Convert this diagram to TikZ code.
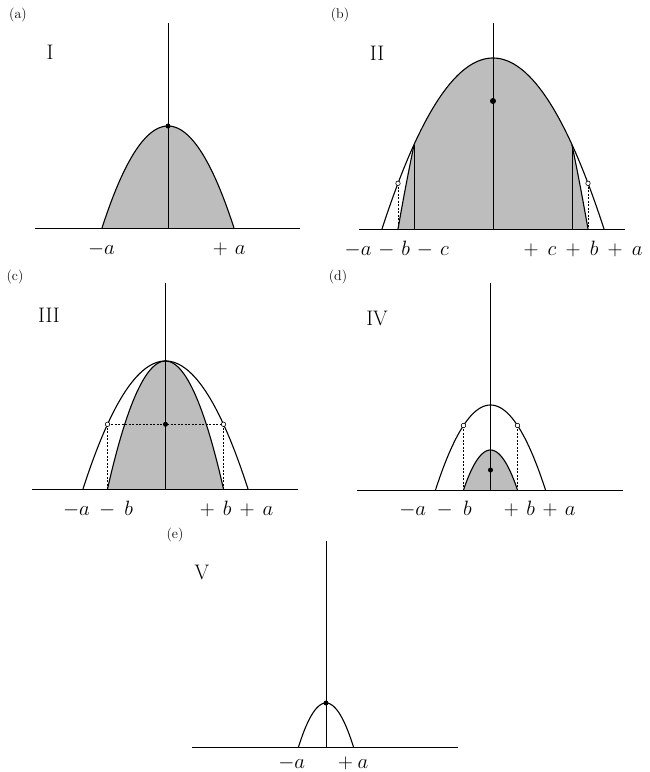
\documentclass[tikz,border=0pt]{standalone}
\begin{document}
\begin{tikzpicture}[x=1pt,y=-1pt,
  curve/.style={line width=1.1pt},
  axisline/.style={line width=0.9pt},
  shadefill/.style={fill=black!26},
  dashline/.style={dashed,dash pattern=on 2pt off 1.5pt,line width=0.6pt},
  lbl/.style={font=\fontsize{22}{26}\selectfont,inner sep=0pt,anchor=base},
  tag/.style={font=\fontsize{14}{17}\selectfont,inner sep=0pt},
  roman/.style={font=\fontsize{21}{25}\selectfont,inner sep=0pt},
  dot/.style={circle,fill,inner sep=0pt,minimum size=5pt},
  odot/.style={circle,draw,fill=white,inner sep=0pt,minimum size=4.5pt,line width=0.6pt}]
\useasboundingbox (0,0) rectangle (649,772);

% ---------------- (a)
\fill[shadefill] plot[domain=-1:1,samples=60] ({168+66*\x},{228-102*(1-\x*\x)}) -- cycle;
\draw[axisline] (35,228) -- (300,228);
\draw[axisline] (168,23) -- (168,228);
\draw[curve] plot[domain=-1:1,samples=60] ({168+66*\x},{228-102*(1-\x*\x)});
\node[dot] (aTop) at (168,126) {};
\node[tag] (tA) at (18,15) {(a)};
\node[roman] (rI) at (50,52) {I};
\node[lbl] (aL) at (101.5,254) {$-a$};
\node[lbl] (aR) at (229.2,254) {$+\mkern6mu a$};

% ---------------- (b)
\fill[shadefill] plot[domain=-1:-0.8316,samples=10] ({493+95*\x},{229-272*(1-\x*\x)})
  -- plot[domain=-0.7117:0.7117,samples=60] ({493+111*\x},{229-171*(1-\x*\x)})
  -- plot[domain=0.8316:1,samples=10] ({493+95*\x},{229-272*(1-\x*\x)}) -- cycle;
\draw[axisline] (359,229) -- (625,229);
\draw[axisline] (493,23) -- (493,229);
\draw[curve] plot[domain=-1:1,samples=80] ({493+111*\x},{229-171*(1-\x*\x)});
\draw[curve] plot[domain=-1:-0.8316,samples=10] ({493+95*\x},{229-272*(1-\x*\x)});
\draw[curve] plot[domain=0.8316:1,samples=10] ({493+95*\x},{229-272*(1-\x*\x)});
\draw[axisline] (414,144.6) -- (414,229);
\draw[axisline] (572,144.6) -- (572,229);
\draw[dashline] (398,183.3) -- (398,229);
\draw[dashline] (588,183.3) -- (588,229);
\node[odot] (bL) at (398,183.3) {};
\node[odot] (bR) at (588,183.3) {};
\node[dot,minimum size=6pt] (bDot) at (493,101) {};
\node[tag] (tB) at (340,15) {(b)};
\node[roman] (rII) at (377,53) {II};
\node[lbl] (bLL) at (396.7,255) {\medmuskip=6mu $-a-b-c$};
\node[lbl] (bRL) at (583,255) {\medmuskip=8mu $+\mkern8mu c+b+a$};

% ---------------- (c)
\fill[shadefill] plot[domain=-1:1,samples=60] ({165.5+58*\x},{489-128*(1-\x*\x)}) -- cycle;
\draw[axisline] (32,489) -- (298,489);
\draw[axisline] (165.5,283) -- (165.5,489);
\draw[curve] plot[domain=-1:1,samples=80] ({165.5+82.5*\x},{489-128*(1-\x*\x)});
\draw[curve] plot[domain=-1:1,samples=60] ({165.5+58*\x},{489-128*(1-\x*\x)});
\draw[dashline] (107.5,424.3) -- (223.5,424.3);
\draw[dashline] (107.5,424.3) -- (107.5,489);
\draw[dashline] (223.5,424.3) -- (223.5,489);
\node[odot] (cL) at (107.5,424.3) {};
\node[odot] (cR) at (223.5,424.3) {};
\node[dot] (cDot) at (165.5,424.3) {};
\node[tag] (tC) at (15,277) {(c)};
\node[roman] (rIII) at (49,315) {III};
\node[lbl] (cLL) at (98,515) {\medmuskip=8mu $-a-b$};
\node[lbl] (cRL) at (236.5,515) {\medmuskip=7mu $+\mkern7mu b+a$};

% ---------------- (d)
\fill[shadefill] plot[domain=-1:1,samples=40] ({490.5+27*\x},{490-40*(1-\x*\x)}) -- cycle;
\draw[axisline] (357,490) -- (623,490);
\draw[axisline] (490.5,283) -- (490.5,490);
\draw[curve] plot[domain=-1:1,samples=60] ({490.5+55*\x},{490-85*(1-\x*\x)});
\draw[curve] plot[domain=-1:1,samples=40] ({490.5+27*\x},{490-40*(1-\x*\x)});
\draw[dashline] (463.5,425.5) -- (463.5,490);
\draw[dashline] (517.5,425.5) -- (517.5,490);
\node[odot] (dL) at (463.5,425.5) {};
\node[odot] (dR) at (517.5,425.5) {};
\node[dot] (dDot) at (490.5,470) {};
\node[tag] (tD) at (338,277) {(d)};
\node[roman] (rIV) at (377,318) {IV};
\node[lbl] (dLL) at (435.5,515) {\medmuskip=9mu $-a-b$};
\node[lbl] (dRL) at (539.8,515) {\medmuskip=6.5mu $+\mkern6.5mu b+a$};

% ---------------- (e)
\draw[axisline] (192,747) -- (458,747);
\draw[axisline] (326,541) -- (326,747);
\draw[curve] plot[domain=-1:1,samples=40] ({326+27.5*\x},{747-44*(1-\x*\x)});
\node[dot] (eTop) at (326,703) {};
\node[tag] (tE) at (175,535) {(e)};
\node[roman] (rV) at (202,572) {V};
\node[lbl] (eL) at (291.7,768) {$-a$};
\node[lbl] (eR) at (353.3,768) {$+\mkern4mu a$};
\end{tikzpicture}
\end{document}
